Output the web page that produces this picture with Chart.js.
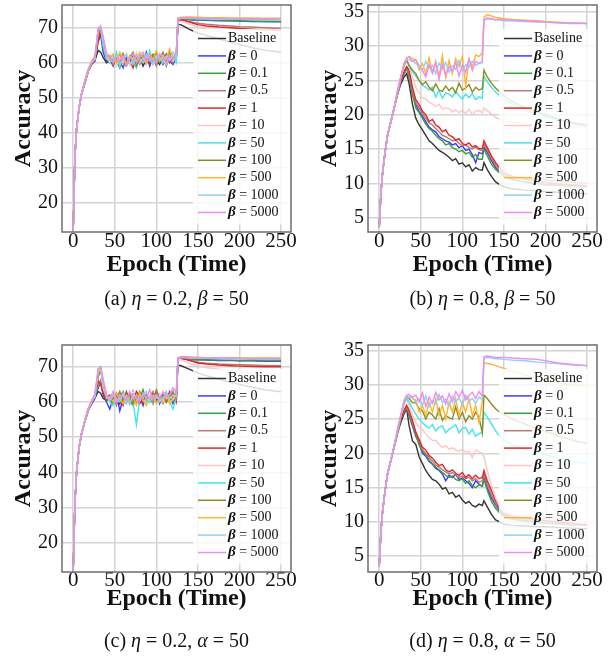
<!DOCTYPE html>
<html>
<head>
<meta charset="utf-8">
<script src="https://cdn.jsdelivr.net/npm/chart.js@4.4.1/dist/chart.umd.min.js"></script>
<style>
  body { margin: 0; background: #fff; }
  #figure { position: relative; width: 613px; height: 658px; font-family: 'Liberation Serif', 'Times New Roman', serif; color: #111; }
  .panel { position: absolute; width: 300px; height: 290px; }
  .caption { position: absolute; width: 229px; text-align: center; font-size: 20px; line-height: 24px; }
</style>
</head>
<body>
<div id="figure">
  <div class="panel" style="left:0;top:0"><canvas id="chartA" width="300" height="290"></canvas></div>
  <div class="panel" style="left:306px;top:0"><canvas id="chartB" width="300" height="290"></canvas></div>
  <div class="panel" style="left:0;top:340px"><canvas id="chartC" width="300" height="290"></canvas></div>
  <div class="panel" style="left:306px;top:340px"><canvas id="chartD" width="300" height="290"></canvas></div>
  <div class="caption" style="left:62px;top:286px">(a) <i>η</i> = 0.2, <i>β</i> = 50</div>
  <div class="caption" style="left:368px;top:286px">(b) <i>η</i> = 0.8, <i>β</i> = 50</div>
  <div class="caption" style="left:62px;top:628px">(c) <i>η</i> = 0.2, <i>α</i> = 50</div>
  <div class="caption" style="left:368px;top:628px">(d) <i>η</i> = 0.8, <i>α</i> = 50</div>
</div>
<script>
// shared x positions (epochs) for every series
const epochs = [0,2,4,7,10,14,18,22,26,30,33,36,40,44,48,52,56,60,64,68,72,76,80,84,88,92,96,100,104,108,112,116,120,124,126,130,135,140,145,150,160,175,190,200,215,230,250];
const xTicks = [0, 50, 100, 150, 200, 250];
const yTicksHigh = [20, 30, 40, 50, 60, 70];
const yTicksLow = [5, 10, 15, 20, 25, 30, 35];

const seriesLabels = ['Baseline', 'β = 0', 'β = 0.1', 'β = 0.5', 'β = 1', 'β = 10', 'β = 50', 'β = 100', 'β = 500', 'β = 1000', 'β = 5000'];
const seriesColors = ['#333333', '#3a3aff', '#3c9c3c', '#b87878', '#e32626', '#ffc4c4', '#3ee6ee', '#8c8c22', '#ffb52e', '#8fcff8', '#ef8cef'];

// (a) eta = 0.2, beta = 50
const aBase = [12,33,41,47,51,54.5,57.5,59.5,60.5, 63.5,63,61.5,60, 60.5,61.5,59.5,61,60,62,59.5,61,60.5,62,59,61,60,62,60.5,59.5,61.5,60,62,60.5,61, 71,70.8,70.2,69.5,69,68.5,67.8,66.8,65.8,65.2,64.3,63.6,63];
const a0 = [12,33,41,47,51,54,57.5,59.5,60.5, 66,68,63,60.5, 61,59,62,60.5,58.5,61.5,60,62.5,59.5,61,60,63,59,61.5,60,62,59.5,61,60.5,59.5,61.5, 72,72.3,72.4,72.3,72.2,72.2,72.1,72,72,71.9,71.8,71.8,71.7];
const a01 = [12,33,41,47,51,54.5,57.5,59.5,61, 67,69,64,61.5, 60,62,60.5,58.5,62,60,61.5,59,62.5,60,61,59.5,62,60.5,63,60,61.5,59,62,61,60.5, 72.2,72.4,72.5,72.4,72.3,72.3,72.2,72.1,72,72,71.9,71.8,71.8];
const a05 = [12,33,41,47,51,54.5,57.5,59.5,61, 68,69.5,65,62, 61.5,59.5,61,62.5,60,59,61.5,60.5,62,59.5,61,62.5,60,61.5,59,62,60.5,61,63,60,61.5, 72,72.2,72,71.8,71.5,71.3,71,70.7,70.5,70.3,70.2,70,69.8];
const a1 = [12,33,41,47,51,54.5,57.5,60,61, 66,69,66,61.5, 62,60,61,59.5,62.5,60.5,61,58.5,61.5,60,62,61,59.5,62,60,61.5,60.5,62.5,60,61.5,62, 72,72.2,72,71.6,71.2,70.9,70.5,70.2,70,69.8,69.6,69.4,69.2];
const a10 = [12,33,41,47,51,54.5,57.5,60,61, 69,70,66,62, 60.5,62,59,61.5,60,62.5,59.5,61,63,60,61.5,59.5,62,61,60,62.5,61,59.5,62,60.5,61.5, 71.8,71.9,71.5,71,70.6,70.2,69.5,68.8,68.1,67.7,67.3,67,66.7];
const a50 = [12,33,41,47,51,54.5,58,60,61, 69.5,70,65,61, 61,60,63,59,61.5,60,62,60.5,58.5,62,61,60,63.5,59.5,61,62,60,61.5,60.5,62,60, 72.5,72.7,72.7,72.6,72.6,72.5,72.5,72.4,72.4,72.4,72.3,72.3,72.3];
const a100 = [12,33,41,47,51,54.5,58,60,61.5, 68,70,66.5,62, 62,59.5,61,60,62.5,60,61.5,63,59,61,62,60,61.5,62.5,60,61,63,60.5,62,61,62.5, 72.6,72.8,72.9,72.9,72.8,72.8,72.7,72.7,72.6,72.6,72.6,72.5,72.5];
const a500 = [12,33,41,47,51,55,58,60.5,62, 69,70.5,67,62.5, 61,62.5,60,63,61,59.5,62,61,60.5,63,61.5,60,62.5,61,63.5,60.5,62,61,64,61.5,62.5, 72.8,73,73.1,73.1,73,73,72.9,72.9,72.8,72.8,72.8,72.7,72.7];
const a1000 = [12,33,41,47,51,54.5,58,60,61, 69.5,70,65.5,61.5, 60,61.5,62,59.5,61,62.5,60,59.5,62,61,60,62.5,61,59.5,62,61.5,60,62,61,63,61.5, 72.5,72.7,72.8,72.7,72.7,72.6,72.6,72.5,72.5,72.5,72.4,72.4,72.4];
const a5000 = [12,33,41,47,51,54.5,58,60,61, 70,70.3,67.5,62.5, 62,60,61.5,60.5,62,59.5,61,62.5,60,61.5,63,60.5,62,61,60,62.5,61.5,60,62,61,63, 72.6,72.8,72.9,72.8,72.8,72.7,72.7,72.6,72.6,72.6,72.5,72.5,72.5];

// (b) eta = 0.8, beta = 50
const bBase = [3.5,8.5,11.5,14.5,17,19,21,23,24.5, 25.5,26,24.5,21.5, 19.5,18.5,17.8,17,16.2,15.8,15.3,14.8,14.5,14.2,13.8,13.3,13.6,12.8,13,12.4,12.7,11.8,12.3,12,11.9, 13,12,11,10.2,9.8,9.5,9.2,9,8.9,8.8,8.7,8.6,8.5];
const b0 = [3.5,8.5,11.5,14.5,17,19,21,23,25, 26,26.8,25.5,23, 21.5,20.5,19.8,19,18.2,17.8,17.5,16.8,16.5,16.2,16,15.6,15.8,15.2,15.5,14.8,15,14.2,13,14.5,14.3, 15.3,14.5,13.3,12.3,11.6,11.1,10.6,10.2,10,9.8,9.7,9.6,9.5];
const b01 = [3.5,8.5,11.5,14.5,17,19,21,23,25, 26,26.8,25.5,23, 21,20.3,19.5,18.6,18,17.6,17,16.5,16.2,15.6,15.8,15.2,15,14.6,14.8,14.3,14.5,13.8,14.2,13.5,13.5, 15,14,12.8,12,11.5,11,10.5,10.2,10,9.8,9.7,9.6,9.5];
const b05 = [3.5,8.5,11.5,14.5,17,19,21,23,25, 26.2,27,26,23.5, 21.8,21,20.2,19.5,18.8,18.5,18,17.5,17,16.8,16.5,16.2,16.3,15.8,15.5,15.6,15.2,15,15.3,14.9,14.8, 15.8,14.8,13.6,12.6,11.8,11.2,10.9,10.8,10.7,10.5,10.3,10.2,10];
const b1 = [3.5,8.5,11.5,14.5,17,19,21,23,25, 26.3,27,26.5,24, 22.2,21.5,20.5,20,19,19.3,18.5,18.2,17.5,17.8,17,16.8,16.3,16.5,15.8,15.6,15.9,15.3,15.5,15,15.1, 16.2,15.2,14,13,12.2,11.5,11,10.6,10.3,10.1,9.9,9.8,9.6];
const b10 = [3.5,8.5,11.5,14.5,17,19,21,23,25.5, 27,27.8,27,25.5, 24,23.2,22.5,22.3,21.8,21.6,21.2,21.5,20.8,21,20.9,20.4,20.7,20.3,20.6,20.2,20.8,20,20.5,20.6,20.3, 21,20.6,20.1,19.6,19.3,19.1,18.9,18.7,18.6,18.5,18.4,18.3,18.2];
const b50 = [3.5,8.5,11.5,14.5,17,19,21,23,25.5, 27.3,28,27,26.3, 25.6,25,24.3,24,23.6,24,22.6,23.5,22.4,23.2,23,22.6,23.4,22.8,22.3,23,22.5,23.1,22.2,22.6,22.4, 25.6,24.8,24,23.3,22.8,22.3,21.5,20.7,20.1,19.7,19.2,18.8,18.3];
const b100 = [3.5,8.5,11.5,14.5,17,19,21,23,25.5, 27.3,28,27.2,26.5, 26,25,24.4,24.8,24,23.5,24.5,23.6,23.4,24.2,23.5,24,23.2,24.6,23.6,23.9,24.4,23.3,24,23.6,23.8, 26.5,25.5,24.6,23.9,23.3,22.8,21.9,21,20.4,20,19.4,18.9,18.5];
const b500 = [3.5,8.5,11.5,14.5,17,19,21,23.5,25.5, 27.5,28.2,28.5,28.2, 28,26.5,27.5,26,28.3,26.2,27.8,25.5,28.6,25.4,27.9,26,28.2,27,28.5,24.2,28,27,28.7,28.5,29, 34.2,34.6,34.4,34.2,34.1,34,33.9,33.8,33.7,33.6,33.5,33.4,33.3];
const b1000 = [3.5,8.5,11.5,14.5,17,19,21,23.5,25.5, 27.5,28,28,27.8, 27.5,27,26.5,27.8,26.8,27.2,26,27.5,26.7,27.6,26.2,27.1,26.6,27.9,26.4,27.3,26.9,27.8,27.2,27.5,27.6, 33.8,34,33.9,33.8,33.8,33.7,33.7,33.6,33.5,33.5,33.4,33.3,33.3];
const b5000 = [3.5,8.5,11.5,14.5,17,19,21,23.5,25.5, 27.5,28.3,28.4,27.8, 28,27.2,26.5,25.5,27.3,26,27.6,25.2,27.4,25.8,27,26.3,27.7,25.6,27.2,26.2,28.2,26.5,27.8,27.5,27.8, 33.8,34.1,34,33.9,33.9,33.8,33.8,33.7,33.6,33.5,33.4,33.4,33.3];

// (c) eta = 0.2, alpha = 50
const cBase = [12,31,40,47,51,54.5,57.5,59.5,61, 63,62.5,61,60.5, 61,60,62,59.5,61.5,60,62.5,60,61,59.5,62,61,60,62.5,60.5,61,62,60,61.5,60.5,61, 70.5,70.3,69.8,69.3,68.8,68.3,67.5,66.5,65.5,65,64.2,63.5,62.9];
const c0 = [12,31,40,47,51,54.5,57.5,59.5,61, 64,66,62,60, 58,61,62.5,57.5,61,62,59.5,63,60,61.5,59,62,60.5,61,63,59.5,62,60,61.5,59.5,62, 72,72.2,72.2,72.1,72,72,71.9,71.8,71.8,71.7,71.7,71.6,71.6];
const c01 = [12,31,40,47,51,54.5,57.5,60,61.5, 64.5,65.5,63,60.5, 61,59.5,62,61,60,63,60.5,59,62,61,63.5,60,61.5,59.5,62.5,61,60,62,61.5,60,61, 72.1,72.3,72.3,72.2,72.1,72.1,72,71.9,71.9,71.8,71.8,71.7,71.7];
const c05 = [12,31,40,47,51,54.5,57.5,60,61.5, 65,66,63,61, 60.5,62,59,61.5,63,60,61,62.5,59.5,61,62,60.5,61.5,63,60,61,59.5,62,61,62.5,60, 72.3,72.4,72.2,71.9,71.6,71.3,71,70.8,70.7,70.6,70.5,70.4,70.3];
const c1 = [12,31,40,47,51,54.5,57.5,60,62, 66,65,62.5,60.5, 61.5,60,62,60.5,59,62.5,61,60,63,61.5,59.5,62,60,61,62.5,60,61.5,60.5,63,61,60, 72.4,72.4,72.1,71.8,71.4,71.1,70.8,70.5,70.3,70.2,70.1,70,70];
const c10 = [12,31,40,47,51,54.5,57.5,60,61.5, 68,69,64,61.5, 61,62.5,60,61,62,59.5,61.5,63,60.5,62,61,59.5,62,60,61.5,62.5,60,61,62,60.5,62, 72,72,71.5,71,70.6,70.3,69.8,69.3,68.9,68.6,68.2,67.9,67.6];
const c50 = [12,31,40,47,51,54.5,58,60,61.5, 69,70,66,62, 60,59,61.5,62,60.5,59.5,62,60,53.5,61,62.5,60,61,59.5,62,60.5,61.5,63,60,58,61, 72.4,72.6,72.6,72.5,72.5,72.4,72.4,72.4,72.3,72.3,72.3,72.2,72.2];
const c100 = [12,31,40,47,51,54.5,58,60,62, 67,69,65.5,61.5, 62,60.5,61,63,60,61.5,62,59.5,61,63,60.5,62,61,60,63.5,61,62,60,61.5,63,61, 72.5,72.7,72.7,72.6,72.6,72.5,72.5,72.4,72.4,72.4,72.3,72.3,72.3];
const c500 = [12,31,40,47,51,55,58,60.5,62, 68.5,69.5,65,61, 61.5,60,62.5,61,59.5,62,60,61.5,59,62.5,60.5,59,61,62,59.5,61,60,62.5,59.5,61,62, 72.6,72.8,72.8,72.8,72.7,72.7,72.6,72.6,72.6,72.5,72.5,72.5,72.5];
const c1000 = [12,31,40,47,51,54.5,58,60,61.5, 69,69.5,65,61.5, 60.5,62,61,60,62.5,61,59.5,62,61,60.5,62,63,60,61.5,62,60,61,62.5,61,62,61.5, 72.4,72.6,72.6,72.5,72.5,72.4,72.4,72.4,72.3,72.3,72.3,72.2,72.2];
const c5000 = [12,31,40,47,51,54.5,58,60,62, 69.5,70,66.5,62, 61,63,60,62,61.5,60.5,63,61,62,60,62.5,61,63.5,60.5,62,61,63,61.5,62,64,62.5, 72.5,72.7,72.8,72.7,72.6,72.6,72.5,72.5,72.5,72.4,72.4,72.4,72.4];

// (d) eta = 0.8, alpha = 50
const dBase = [3.5,8.5,11.5,14.5,17,19,21,23,24.5, 25.8,26.5,24,21.8, 21.3,19.5,18.5,17.5,16.8,16.2,16,15.5,14.8,15,14.1,14.3,13.6,13.9,13.2,12.7,13,12.4,12.2,12.6,12.4, 13.1,12.2,11.1,10.3,10,9.7,9.5,9.4,9.3,9.3,9.2,9.1,9];
const d0 = [3.5,8.5,11.5,14.5,17,19,21,23,25, 26,26.5,25.5,24, 22.5,21.5,20,19.6,18.8,18.4,17.8,17.5,17,16,16.8,16.5,16.9,16.2,16.4,16,15.6,15,16,15.5,15.2, 16.5,15,13.5,12.5,11.6,11,10.6,10.2,10,9.9,9.8,9.6,9.5];
const d01 = [3.5,8.5,11.5,14.5,17,19,21,23,25, 26,26.6,25.6,24.2, 22.7,21.2,20.3,19.8,19,18.5,18,17.6,17.2,16.8,16.5,16.7,16.2,16,16.3,15.6,16,15.3,15,15.4,15.2, 16.2,14.6,13,12,11.3,10.8,10.4,10.1,9.9,9.8,9.7,9.6,9.5];
const d05 = [3.5,8.5,11.5,14.5,17,19,21,23,25, 26.2,26.8,26,24.5, 23,21.8,20.6,20,19.4,18.9,18.3,18,17.6,17.3,17,17.2,16.8,16.5,16.7,16.3,16.5,16,16.3,15.8,16, 17,15.5,14,12.7,11.8,11.2,10.8,10.4,10.2,10,9.9,9.7,9.5];
const d1 = [3.5,8.5,11.5,14.5,17,19,21,23,25, 26.3,27,26.3,24.8, 23.1,22,20.9,20.5,19.7,19.3,18.7,18.2,18.4,17.6,17.3,17.6,17.1,16.8,17.2,16.5,16.9,16.3,16.8,16.3,16.5, 17.5,16,14.6,13.1,12,11.3,10.9,10.6,10.4,10.2,10,9.8,9.6];
const d10 = [3.5,8.5,11.5,14.5,17,19,21,23,25.5, 27.2,27.8,27,25.5, 24.5,23.8,23.5,22.8,22.3,21.9,21.9,21.3,20.9,21.1,20.6,20.8,20.5,20.3,20.6,20.2,20.3,19.4,20.5,20.2,20, 19.5,17.5,15.3,13.5,12.2,11.5,11,10.8,10.7,10.5,10.4,10.2,10];
const d50 = [3.5,8.5,11.5,14.5,17,19,21,23,25.5, 27.5,28,27.5,26.5, 25.7,25,24.5,24,23.7,24.2,23.3,23.8,24,23,23.5,23.8,24.2,23,23.6,23.8,22.8,23.5,22.5,22.9,23, 26,25.3,24.3,23.3,22.5,22,21.3,20.6,20.1,19.8,19.3,18.9,18.5];
const d100 = [3.5,8.5,11.5,14.5,17,19,21,23,25.5, 27.5,28.2,28,27.4, 27.4,26.5,26.2,25,26,25.6,25,26.5,24.8,25.5,25.2,25,26.8,25,26,24.6,25.5,25,26,25.3,23, 28.5,28,27.2,26.5,26,25.7,25,24.3,23.6,23.2,22.6,22,21.4];
const d500 = [3.5,8.5,11.5,14.5,17,19,21,23.5,25.5, 27.6,28.3,28.3,28, 27.8,26,27,25.5,27.5,26,28,25.5,27,25,27.5,26,28,25.5,27.5,26,28,25.5,27,24.5,27.5, 33.2,33.1,33,32.8,32.6,32.4,32,31.4,30.9,30.6,30.3,30,29.8];
const d1000 = [3.5,8.5,11.5,14.5,17,19,21,23.5,25.5, 27.6,28.2,28.3,28, 27.5,28,27,28.4,26.8,27.7,27.2,28.6,27.4,27.9,26.9,28.3,27.5,28.1,27,28.5,27.6,28,27.3,28.2,27.8, 33.8,34,33.9,33.8,33.8,33.7,33.6,33.5,33.3,33.2,33.1,32.9,32.8];
const d5000 = [3.5,8.5,11.5,14.5,17,19,21,23.5,25.5, 27.8,28.5,28.6,28.2, 28.5,27.5,28.8,26.8,28.2,27.3,28.9,27.8,28.4,27.2,28.7,27.5,29,28.2,29.2,27.8,28.5,28.9,28,29,28.4, 34.1,34.2,34.1,34,34,34,33.9,33.8,33.7,33.5,33.2,33,32.8];

const SERIF = "'Liberation Serif', 'Times New Roman', serif";

// box legend drawn inside the plot area, on a translucent white card
const boxLegend = {
    id: 'boxLegend',
    afterDatasetsDraw(chart) {
        const { ctx, chartArea: area } = chart;
        const left = area.right - 98;
        const rowH = 17.4;
        ctx.save();
        ctx.fillStyle = 'rgba(255,255,255,0.82)';
        ctx.fillRect(left, area.top + 24, area.right - left, rowH * 11 + 4);
        ctx.textBaseline = 'middle';
        chart.data.datasets.forEach((ds, i) => {
            const y = area.top + 33.5 + i * rowH;
            ctx.strokeStyle = ds.borderColor;
            ctx.lineWidth = 1.5;
            ctx.beginPath();
            ctx.moveTo(left + 5, y);
            ctx.lineTo(left + 33, y);
            ctx.stroke();
            ctx.fillStyle = '#111';
            let tx = left + 35;
            if (ds.label.startsWith('β')) {
                ctx.font = 'italic bold 15px ' + SERIF;
                ctx.fillText('β', tx, y);
                tx += ctx.measureText('β').width;
                ctx.font = '14px ' + SERIF;
                ctx.fillText(ds.label.slice(1), tx, y);
            } else {
                ctx.font = '14px ' + SERIF;
                ctx.fillText(ds.label, tx, y);
            }
        });
        ctx.restore();
    },
    afterDraw(chart) {
        const { ctx, chartArea: area } = chart;
        ctx.save();
        ctx.strokeStyle = '#6e6e6e';
        ctx.lineWidth = 1.5;
        ctx.strokeRect(area.left, area.top, area.right - area.left, area.bottom - area.top);
        ctx.restore();
    }
};

function renderPanel(id, values, yMin, yMax, yTicks, lowerRow) {
    const ctx = document.getElementById(id).getContext('2d');
    const n = values.length;
    const datasets = values.map((vals, i) => ({
        label: seriesLabels[i],
        data: epochs.map((e, k) => ({ x: e, y: vals[k] })),
        borderColor: seriesColors[i],
        borderWidth: 1.4,
        pointRadius: 0,
        tension: 0,
        order: n - i
    }));
    const gridOpts = { color: '#d4d4d4', lineWidth: 1.5, drawTicks: false };
    return new Chart(ctx, {
        type: 'line',
        data: { datasets },
        plugins: [boxLegend],
        options: {
            responsive: false,
            animation: false,
            layout: { padding: { left: 0, right: 9, top: 5, bottom: 0 } },
            plugins: { legend: { display: false }, tooltip: { enabled: false } },
            scales: {
                x: {
                    type: 'linear',
                    min: -13.5,
                    max: 262,
                    afterBuildTicks: s => { s.ticks = xTicks.map(v => ({ value: v })); },
                    afterFit: s => { s.height = 58; s.paddingLeft = 0; s.paddingRight = 0; },
                    grid: gridOpts,
                    border: { display: false },
                    ticks: { color: '#111', font: { family: SERIF, size: 21, lineHeight: 1 }, padding: lowerRow ? -2.5 : -1.5, maxRotation: 0, autoSkip: false },
                    title: { display: true, text: 'Epoch (Time)', color: '#111', font: { family: SERIF, size: 24, weight: 'bold', lineHeight: 1.2 }, padding: { top: 0, bottom: lowerRow ? 16.5 : 10.6 } }
                },
                y: {
                    min: yMin,
                    max: yMax,
                    afterBuildTicks: s => { s.ticks = yTicks.map(v => ({ value: v })); },
                    afterFit: s => { s.width = 62; s.paddingTop = 0; s.paddingBottom = 0; },
                    grid: gridOpts,
                    border: { display: false },
                    ticks: { color: '#111', font: { family: SERIF, size: 20, lineHeight: 1 }, padding: 4 },
                    title: { display: true, text: 'Accuracy', color: '#111', font: { family: SERIF, size: 24, weight: 'bold', lineHeight: 1.2 }, padding: { top: 9.6, bottom: 0 } }
                }
            }
        }
    });
}

renderPanel('chartA', [aBase, a0, a01, a05, a1, a10, a50, a100, a500, a1000, a5000], 11.6, 76.5, yTicksHigh, false);
renderPanel('chartB', [bBase, b0, b01, b05, b1, b10, b50, b100, b500, b1000, b5000], 2.9, 36.0, yTicksLow, false);
renderPanel('chartC', [cBase, c0, c01, c05, c1, c10, c50, c100, c500, c1000, c5000], 11.7, 76.2, yTicksHigh, true);
renderPanel('chartD', [dBase, d0, d01, d05, d1, d10, d50, d100, d500, d1000, d5000], 2.7, 35.8, yTicksLow, true);
</script>
</body>
</html>
